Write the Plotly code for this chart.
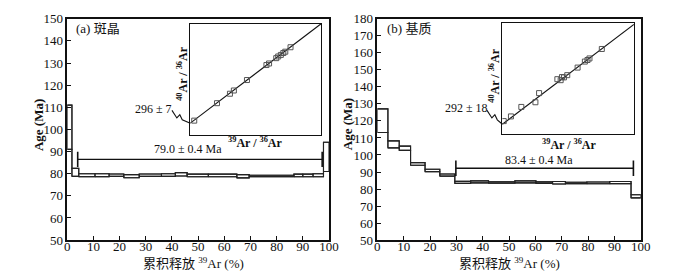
import plotly.graph_objects as go

W, H = 700, 271
SERIF = "Times New Roman, Liberation Serif, DejaVu Serif, Noto Sans CJK SC"

# ---- Panel (a) phenocryst age spectrum ----
a_bounds = [0, 1.8, 4.4, 10.6, 16.0, 21.6, 27.5, 36.0, 41.3, 45.8, 53.9, 64.8, 69.5, 86.6, 90.0, 93.9, 97.9, 100]
a_lower = [91.0, 78.8, 78.7, 78.7, 78.8, 78.2, 78.8, 78.8, 79.0, 78.6, 78.6, 78.1, 78.7, 78.6, 78.6, 78.6, 81.0]
a_upper = [111.0, 82.4, 80.0, 80.0, 79.9, 79.6, 79.9, 80.0, 80.5, 79.8, 79.8, 79.6, 79.3, 79.8, 79.8, 80.0, 94.2]
a_plateau = [4.0, 97.4]
a_plateau_age = 86.5
a_label = "79.0 ± 0.4 Ma"

# ---- Panel (b) matrix age spectrum ----
b_bounds = [0, 4.0, 8.3, 12.6, 18.1, 23.7, 29.4, 35.4, 42.2, 52.2, 60.2, 66.5, 71.4, 79.5, 88.2, 96.3, 100]
b_lower = [113.2, 104.2, 102.7, 94.0, 90.2, 87.6, 83.3, 83.6, 83.4, 83.6, 83.3, 83.0, 83.2, 83.1, 83.2, 74.8]
b_upper = [127.1, 108.3, 105.2, 95.5, 91.6, 88.8, 84.5, 84.8, 84.2, 84.8, 84.2, 84.4, 84.0, 84.1, 84.4, 76.6]
b_plateau = [29.8, 97.2]
b_plateau_age = 92.2
b_label = "83.4 ± 0.4 Ma"

# ---- Inverse isochron insets (relative units, no ticks shown) ----
ia_x = [3.0, 20.4, 30.3, 33.3, 43.3, 58.2, 60.2, 65.7, 67.2, 69.2, 71.1, 72.6, 76.6]
ia_y = [12.9, 28.6, 37.1, 40.0, 49.4, 62.9, 64.3, 69.1, 70.6, 72.0, 73.7, 74.9, 78.9]
ia_line = [10.6, 100.0]   # y at x=0 and x=100
ia_label = "296 ± 7"

ib_x = [1.0, 6.5, 14.4, 25.1, 27.9, 41.8, 44.3, 45.3, 46.8, 49.3, 57.2, 62.7, 64.7, 66.2, 75.6]
ib_y = [11.6, 15.8, 24.3, 28.5, 36.7, 49.2, 48.3, 51.1, 50.8, 52.8, 59.6, 65.0, 66.4, 67.8, 76.3]
ib_line = [8.8, 98.3]
ib_label = "292 ± 18"

def px(x):
    return x / W

def py(y):
    return 1 - y / H

# domains (pixels)
A_DOM_X = [px(57.3), px(324.0)]
B_DOM_X = [px(373.3), px(641.7)]
DOM_Y = [py(238.3), py(4.0)]
IA_DOM_X = [px(182.7), px(316.0)]
IA_DOM_Y = [py(127.0), py(9.3)]
IB_DOM_X = [px(500.7), px(634.7)]
IB_DOM_Y = [py(126.0), py(8.0)]

fig = go.Figure()

LINE_C = "#222222"

def spectrum(bounds, lower, upper, xa, ya):
    xs, ys = [], []
    for i in range(len(lower)):
        x0, x1 = bounds[i], bounds[i + 1]
        xs += [x0, x1, x1, x0, x0, None]
        ys += [lower[i], lower[i], upper[i], upper[i], lower[i], None]
    fig.add_trace(go.Scatter(x=xs, y=ys, mode="lines", line=dict(color=LINE_C, width=1.1),
                             xaxis=xa, yaxis=ya, showlegend=False, hoverinfo="skip"))
    for arr in (upper, lower):
        fig.add_trace(go.Scatter(x=bounds, y=list(arr) + [arr[-1]], mode="lines",
                                 line=dict(color=LINE_C, width=1.1, shape="hv"),
                                 xaxis=xa, yaxis=ya, showlegend=False, hoverinfo="skip"))

def plateau(span, age, label, xa, ya, label_x, label_dy):
    fig.add_trace(go.Scatter(x=span, y=[age, age], mode="lines+markers",
                             line=dict(color="#111", width=1.4),
                             marker=dict(symbol="line-ns-open", size=11, line=dict(color="#111", width=1.6)),
                             xaxis=xa, yaxis=ya, showlegend=False, hoverinfo="skip"))
    fig.add_annotation(x=label_x, y=age + label_dy, xref=xa, yref=ya, text=label, showarrow=False,
                       font=dict(family=SERIF, size=12, color="#111"))

def isochron(xs, ys, line, xa, ya):
    fig.add_trace(go.Scatter(x=[0, 100], y=line, mode="lines", line=dict(color="#111", width=1.1),
                             xaxis=xa, yaxis=ya, showlegend=False, hoverinfo="skip"))
    fig.add_trace(go.Scatter(x=xs, y=ys, mode="markers",
                             marker=dict(symbol="square-open", size=5, color="#555", line=dict(width=1)),
                             xaxis=xa, yaxis=ya, showlegend=False, hoverinfo="skip"))

spectrum(a_bounds, a_lower, a_upper, "x", "y")
spectrum(b_bounds, b_lower, b_upper, "x2", "y2")
plateau(a_plateau, a_plateau_age, a_label, "x", "y", 46, 4.6)
plateau(b_plateau, b_plateau_age, b_label, "x2", "y2", 61.5, 4.7)
isochron(ia_x, ia_y, ia_line, "x3", "y3")
isochron(ib_x, ib_y, ib_line, "x4", "y4")

tickfont = dict(family=SERIF, size=13, color="#111")
main_axis = dict(showline=True, linecolor="#111", linewidth=1.5, mirror=True, ticks="inside",
                 ticklen=4, tickcolor="#111", tickwidth=1.2, showgrid=False, zeroline=False,
                 tickfont=tickfont, ticklabeloverflow="allow")
inset_axis = dict(showline=True, linecolor="#111", linewidth=1.1, mirror=True, ticks="",
                  showticklabels=False, showgrid=False, zeroline=False, range=[0, 100], fixedrange=True)

fig.update_layout(
    width=W, height=H, margin=dict(l=0, r=0, t=0, b=0),
    paper_bgcolor="white", plot_bgcolor="rgba(0,0,0,0)",
    xaxis=dict(domain=A_DOM_X, range=[0, 100], tickvals=list(range(0, 101, 10)), anchor="y",
               ticklabelstandoff=-6, **main_axis),
    yaxis=dict(domain=DOM_Y, range=[50, 150], tickvals=list(range(50, 151, 10)), anchor="x", **main_axis),
    xaxis2=dict(domain=B_DOM_X, range=[0, 100], tickvals=list(range(0, 101, 10)), anchor="y2",
                ticklabelstandoff=-6, **main_axis),
    yaxis2=dict(domain=DOM_Y, range=[50, 180], tickvals=list(range(50, 181, 10)), anchor="x2", **main_axis),
    xaxis3=dict(domain=IA_DOM_X, anchor="y3", **inset_axis),
    yaxis3=dict(domain=IA_DOM_Y, anchor="x3", **inset_axis),
    xaxis4=dict(domain=IB_DOM_X, anchor="y4", **inset_axis),
    yaxis4=dict(domain=IB_DOM_Y, anchor="x4", **inset_axis),
)

def pann(x, y, text, angle=0, size=12, xanchor="center"):
    fig.add_annotation(x=px(x), y=py(y), xref="paper", yref="paper", text=text, showarrow=False,
                       textangle=angle, xanchor=xanchor, yanchor="middle",
                       font=dict(family=SERIF, size=size, color="#111"))

# panel labels
pann(64, 14, "(a) 斑晶", xanchor="left", size=13)
pann(381, 14, "(b) 基质", xanchor="left", size=13)
# axis titles
pann(28, 116, "<b>Age (Ma)</b>", angle=-90, size=13)
pann(343, 116, "<b>Age (Ma)</b>", angle=-90, size=13)
pann(186, 263, "累积释放 <sup>39</sup>Ar (%)", size=13)
pann(507.5, 263, "累积释放 <sup>39</sup>Ar (%)", size=13)
# inset titles
pann(174.5, 62, "<b><sup>40</sup>Ar / <sup>36</sup>Ar</b>", angle=-90, size=12)
pann(492.5, 64, "<b><sup>40</sup>Ar / <sup>36</sup>Ar</b>", angle=-90, size=12)
pann(249, 135, "<b><sup>39</sup>Ar / <sup>36</sup>Ar</b>", size=12)
pann(569, 137, "<b><sup>39</sup>Ar / <sup>36</sup>Ar</b>", size=12)
# intercept labels
pann(145, 100, ia_label, size=12)
pann(464, 98.5, ib_label, size=12)

# zig-zag leader lines from intercept labels to the isochron intercepts
def zigzag(x_start, y_start, dom_x, dom_y, intercept):
    ex = dom_x[0]
    ey = dom_y[0] + intercept / 100 * (dom_y[1] - dom_y[0])
    pts = [(px(x_start), py(y_start)), (px(x_start + 5), py(y_start + 8)),
           (px(x_start + 8), py(y_start + 4.5)), (px(x_start + 10.5), py(y_start + 10)), (ex, ey)]
    path = "M " + " L ".join(f"{a:.5f},{b:.5f}" for a, b in pts)
    fig.add_shape(type="path", path=path, xref="paper", yref="paper",
                  line=dict(color="#111", width=1.1))

zigzag(164, 101, IA_DOM_X, IA_DOM_Y, ia_line[0])
zigzag(485, 101, IB_DOM_X, IB_DOM_Y, ib_line[0])

fig.write_html("out.html")
